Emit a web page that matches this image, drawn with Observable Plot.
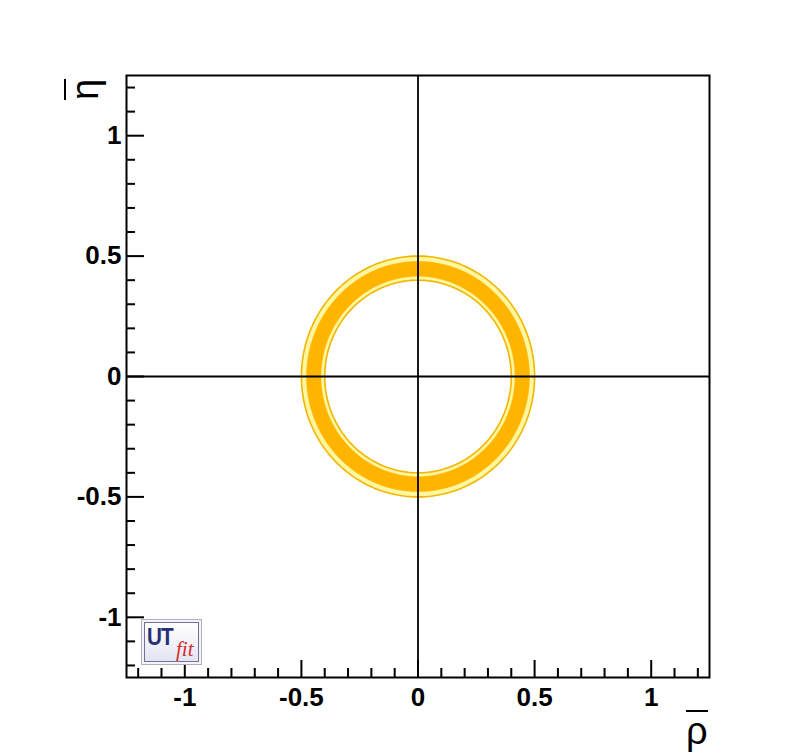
<!DOCTYPE html>
<html><head><meta charset="utf-8">
<script src="https://cdn.jsdelivr.net/npm/d3@7"></script>
<script src="https://cdn.jsdelivr.net/npm/@observablehq/plot@0.6"></script>
<style>
body{margin:0;background:#fff;}
#wrap{position:relative;width:788px;height:754px;overflow:hidden;}
.ttl{position:absolute;font-family:"Liberation Sans",Arial,sans-serif;font-size:38px;line-height:1;color:#000;}
.bar{border-top:2px solid #000;display:inline-block;padding-top:0;}
#logo{position:absolute;left:141px;top:619px;width:59px;height:44px;border:1px solid #b0b0b8;background:#f4f4f8;box-sizing:content-box;}
#logoIn{position:absolute;left:2px;top:2px;right:2px;bottom:2px;border:1px solid #6f6fa0;background:linear-gradient(#ffffff,#e4e4f2);}
#ut{position:absolute;left:2px;top:1px;font-family:"Liberation Sans",Arial,sans-serif;font-weight:bold;font-size:23px;color:#26307a;letter-spacing:-1px;transform:scaleX(0.9);transform-origin:0 0;}
#fit{position:absolute;left:31px;top:14px;font-family:"Liberation Serif","DejaVu Serif",serif;font-style:italic;font-size:21px;color:#d22a2a;}
</style></head><body><div id="wrap"></div><script>
// axis ticks
const majorTicks = [-1, -0.5, 0, 0.5, 1];
const tickLabels = ["-1", "-0.5", "0", "0.5", "1"];
const minorTicks = [-1.2, -1.1, -0.9, -0.8, -0.7, -0.6, -0.4, -0.3, -0.2, -0.1,
                    0.1, 0.2, 0.3, 0.4, 0.6, 0.7, 0.8, 0.9, 1.1, 1.2];
// contour regions of the (rho, eta) constraint: centre and radii
const centerRho = 0;
const centerEta = 0;
const contourNames = ["95% outer", "68% outer", "68% inner", "95% inner"];
const contourRadii = [0.500, 0.478, 0.414, 0.400];

// circle geometry (shape only)
const angles = d3.range(0, 361, 2).map(a => a * Math.PI / 180);
const circle = (r) => angles.map(t => ({x: centerRho + r * Math.cos(t), y: centerEta + r * Math.sin(t)}));

const styles = [
  {fill: "#fff7a0", stroke: "#f2b500", strokeWidth: 1.6},
  {fill: "#ffb400", stroke: "#ffb400", strokeWidth: 0.5},
  {fill: "#fff7a0", stroke: "#fff7a0", strokeWidth: 0.5},
  {fill: "#ffffff", stroke: "#f2b500", strokeWidth: 1.6}
];

const fmt = (d) => tickLabels[majorTicks.indexOf(d)];
const fontOpts = {fontSize: 26, fontWeight: "bold"};

const plot = Plot.plot({
  width: 788, height: 754,
  marginLeft: 126, marginRight: 79, marginTop: 75, marginBottom: 77,
  x: {domain: [-1.25, 1.25], label: null, axis: null},
  y: {domain: [-1.25, 1.25], label: null, axis: null},
  style: {fontFamily: "Liberation Sans, Arial, sans-serif", fontWeight: "bold", fontSize: "26px", background: "white"},
  marks: [
    ...contourRadii.map((r, i) => Plot.line(circle(r), {x: "x", y: "y", ...styles[i]})),
    Plot.ruleX([0], {stroke: "black", strokeWidth: 1.8}),
    Plot.ruleY([0], {stroke: "black", strokeWidth: 1.8}),
    Plot.axisX({ticks: majorTicks, tickSize: -17, tickFormat: () => "", strokeWidth: 2, label: null}),
    Plot.axisX({ticks: minorTicks, tickSize: -9, tickFormat: () => "", strokeWidth: 2, label: null}),
    Plot.axisY({ticks: majorTicks, tickSize: -18, tickFormat: () => "", strokeWidth: 2, label: null}),
    Plot.axisY({ticks: minorTicks, tickSize: -9, tickFormat: () => "", strokeWidth: 2, label: null}),
    Plot.axisX({ticks: majorTicks, tickSize: 0, tickPadding: 10, tickFormat: fmt, label: null, ...fontOpts}),
    Plot.axisY({ticks: majorTicks, tickSize: 0, tickPadding: 5, tickFormat: fmt, label: null, ...fontOpts}),
    Plot.frame({stroke: "black", strokeWidth: 2})
  ]
});
const wrap = document.getElementById("wrap");
wrap.appendChild(plot);

const rho = document.createElement("div");
rho.className = "ttl";
rho.style.left = "686px"; rho.style.top = "710px";
rho.innerHTML = '<span class="bar">ρ</span>';
wrap.appendChild(rho);

const eta = document.createElement("div");
eta.className = "ttl";
eta.style.left = "64px"; eta.style.top = "100px";
eta.style.transformOrigin = "0 0";
eta.style.transform = "rotate(-90deg)";
eta.innerHTML = '<span class="bar">η</span>';
wrap.appendChild(eta);

const logo = document.createElement("div");
logo.id = "logo";
logo.innerHTML = '<div id="logoIn"><span id="ut">UT</span><span id="fit">fit</span></div>';
wrap.appendChild(logo);
</script></body></html>
